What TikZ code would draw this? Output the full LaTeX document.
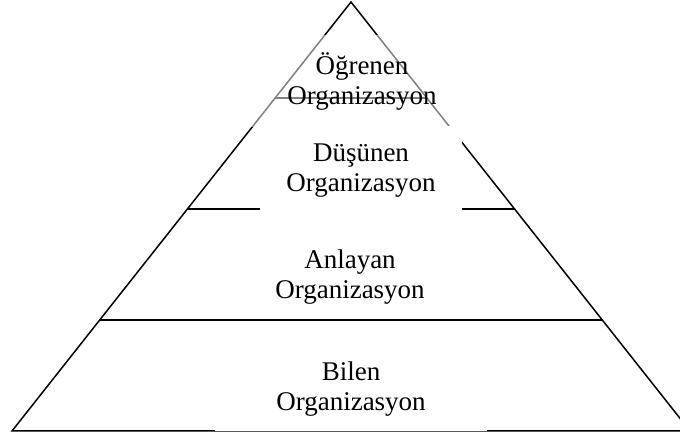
\documentclass[tikz,border=0pt]{standalone}
\usepackage{fontspec}
\setmainfont{Liberation Serif}
\usetikzlibrary{calc}
\tikzset{
x=0.5pt, y=-0.5pt, % one unit is one pixel of the sketch
edge/.style={line width=0.75pt, line cap=round},
tier text/.style={align=center, inner sep=0pt, font=\fontsize{13.5pt}{15pt}\selectfont},
tier box/.style={tier text, fill=white}, % hides the lines behind the text
}

\begin{document}
\begin{tikzpicture}
   \clip (0,0) rectangle (680,437);
   \coordinate (apex) at (351,2);
   \coordinate (base_l) at (12,431);
   \coordinate (base_r) at (690,431);
   % ends of the three inner lines on the two sides
   \coordinate (t_1_l) at ($(apex)!0.2238!(base_l)$);
   \coordinate (t_1_r) at ($(apex)!0.2238!(base_r)$);
   \coordinate (t_2_l) at ($(apex)!0.4825!(base_l)$);
   \coordinate (t_2_r) at ($(apex)!0.4825!(base_r)$);
   \coordinate (t_3_l) at ($(apex)!0.7413!(base_l)$);
   \coordinate (t_3_r) at ($(apex)!0.7413!(base_r)$);
   \draw[edge] (base_l) -- (apex) -- (base_r) -- cycle;
   \draw[edge] (t_1_l) -- (t_1_r);
   \draw[edge] (t_2_l) -- (t_2_r);
   \draw[edge] (t_3_l) -- (t_3_r);
   \node[tier box, fill opacity=0.5, text opacity=1, minimum width=115pt, minimum height=46pt] (t_1) at (362,81) {Öğrenen\\Organizasyon};
   \node[tier box, minimum width=101pt, minimum height=45pt] (t_2) at (361,171) {Düşünen\\Organizasyon};
   \node[tier text] (t_3) at (350,277) {Anlayan\\Organizasyon};
   \node[tier box, minimum width=136pt, minimum height=42pt] (t_4) at (351,389) {Bilen\\Organizasyon};
\end{tikzpicture}
\end{document}
